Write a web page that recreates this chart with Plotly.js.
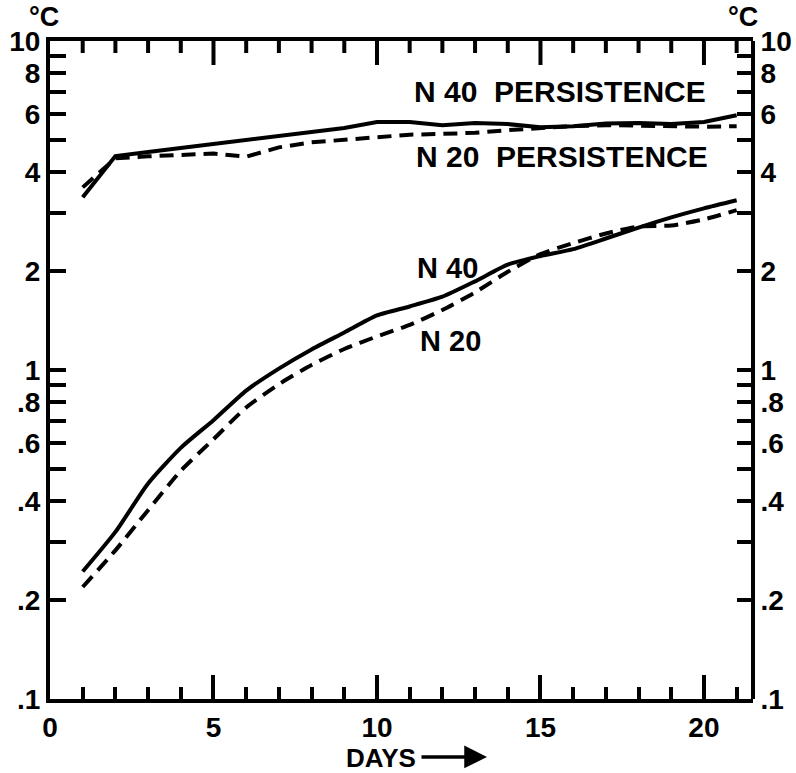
<!DOCTYPE html>
<html>
<head>
<meta charset="utf-8">
<script src="https://cdn.plot.ly/plotly-3.0.1.min.js"></script>
<style>html,body{margin:0;padding:0;background:#fff;}#chart{width:796px;height:773px;}</style>
</head>
<body>
<div id="chart"></div>
<script>
const days = [1,2,3,4,5,6,7,8,9,10,11,12,13,14,15,16,17,18,19,20,21];
const n40Persistence = [3.35,4.47,4.60,4.73,4.86,4.98,5.12,5.28,5.44,5.67,5.67,5.55,5.63,5.59,5.47,5.51,5.61,5.63,5.59,5.67,5.95];
const n20Persistence = [3.59,4.40,4.46,4.50,4.55,4.45,4.75,4.92,5.02,5.12,5.19,5.22,5.26,5.36,5.44,5.51,5.55,5.53,5.51,5.49,5.51];
const n40 = [0.244,0.322,0.452,0.580,0.704,0.866,1.01,1.155,1.30,1.465,1.56,1.67,1.86,2.09,2.22,2.33,2.51,2.71,2.91,3.10,3.28];
const n20 = [0.219,0.283,0.375,0.494,0.616,0.769,0.905,1.036,1.158,1.265,1.371,1.522,1.721,1.988,2.25,2.43,2.60,2.73,2.75,2.87,3.06];

const xTickVals = [0,5,10,15,20];
const xTickText = ['0','5','10','15','20'];
const yTickVals = [0.1,0.2,0.3,0.4,0.5,0.6,0.7,0.8,0.9,1,2,3,4,5,6,7,8,9,10];
const yTickText = ['.1','.2','','.4','','.6','','.8','','1','2','','4','','6','','8','','10'];

const FONT = 'Liberation Sans, Arial, sans-serif';
const solid = {color:'black', width:4};
const dashed = {color:'black', width:4, dash:'14px,8px'};

// mirrored day ticks along the top edge, drawn as axis decorations from the tick arrays
const PLOT_H = 773 - 41 - 74;
const topMinorX = days.filter(d => d % 5 !== 0);
const topMajorX = xTickVals.filter(v => v > 0);
const topTickShapes = [];
topMinorX.forEach(d => topTickShapes.push({type:'line', layer:'above', xref:'x', yref:'paper', x0:d, x1:d, y0:1, y1:1 - 12 / PLOT_H, line:{color:'black', width:4}}));
topMajorX.forEach(d => topTickShapes.push({type:'line', layer:'above', xref:'x', yref:'paper', x0:d, x1:d, y0:1, y1:1 - 24 / PLOT_H, line:{color:'black', width:4}}));

const traces = [
  {x: days, y: n40Persistence, mode:'lines', line: Object.assign({shape:'linear'}, solid), xaxis:'x', yaxis:'y'},
  {x: days, y: n20Persistence, mode:'lines', line: Object.assign({shape:'linear'}, dashed), xaxis:'x', yaxis:'y2'},
  {x: days, y: n40, mode:'lines', line: Object.assign({shape:'spline', smoothing:0.6}, solid), xaxis:'x', yaxis:'y'},
  {x: days, y: n20, mode:'lines', line: Object.assign({shape:'spline', smoothing:0.6}, dashed), xaxis:'x', yaxis:'y2'}
];

const tickFont = {family: FONT, size: 28, color:'black', weight:'bold'};
const yCommon = {
  type:'log', range:[-1,1], tickmode:'array', tickvals:yTickVals, ticktext:yTickText,
  ticks:'inside', tickwidth:4, tickcolor:'black', showline:true, linewidth:4, linecolor:'black',
  showgrid:false, zeroline:false, tickfont:tickFont, fixedrange:true
};

const layout = {
  width:796, height:773,
  margin:{l:50, r:43, t:41, b:74, pad:0},
  paper_bgcolor:'white', plot_bgcolor:'white',
  showlegend:false,
  font:{family:FONT, color:'black'},
  xaxis: {
    range:[0,21.5], tickmode:'array', tickvals:xTickVals, ticktext:xTickText,
    ticks:'inside', ticklen:24, tickwidth:4, tickcolor:'black',
    minor:{dtick:1, tick0:0, ticks:'inside', ticklen:12, tickwidth:4, tickcolor:'black'},
    showline:true, linewidth:4, linecolor:'black', mirror:true,
    showgrid:false, zeroline:false, tickfont:tickFont, anchor:'y'
  },
  yaxis: Object.assign({}, yCommon, {side:'left', ticklen:16, anchor:'x'}),
  yaxis2: Object.assign({}, yCommon, {side:'right', overlaying:'y', anchor:'free', position:1, ticklen:14}),
  shapes: topTickShapes,
  annotations:[
    {xref:'paper', yref:'paper', x:-0.0085, y:1.036, text:'°C', showarrow:false, xanchor:'center', yanchor:'middle', font:{family:FONT, size:27, weight:'bold'}},
    {xref:'paper', yref:'paper', x:0.9858, y:1.036, text:'°C', showarrow:false, xanchor:'center', yanchor:'middle', font:{family:FONT, size:27, weight:'bold'}},
    {xref:'paper', yref:'paper', x:0.7255, y:0.9225, text:'N 40  PERSISTENCE', showarrow:false, xanchor:'center', yanchor:'middle', font:{family:FONT, size:30, weight:'bold'}},
    {xref:'paper', yref:'paper', x:0.7283, y:0.8252, text:'N 20  PERSISTENCE', showarrow:false, xanchor:'center', yanchor:'middle', font:{family:FONT, size:30, weight:'bold'}},
    {xref:'paper', yref:'paper', x:0.5661, y:0.655, text:'N 40', showarrow:false, xanchor:'center', yanchor:'middle', font:{family:FONT, size:29, weight:'bold'}},
    {xref:'paper', yref:'paper', x:0.569, y:0.544, text:'N 20', showarrow:false, xanchor:'center', yanchor:'middle', font:{family:FONT, size:29, weight:'bold'}},
    {xref:'paper', yref:'paper', x:0.4708, y:-0.0897, text:'DAYS', showarrow:false, xanchor:'center', yanchor:'middle', font:{family:FONT, size:26, weight:'bold'}},
    {xref:'paper', yref:'paper', x:0.6216, y:-0.0881, text:'', showarrow:true, axref:'pixel', ayref:'pixel', ax:-67, ay:0, arrowhead:2, arrowsize:1.3, arrowwidth:3.5, arrowcolor:'black'}
  ]
};

Plotly.newPlot('chart', traces, layout, {staticPlot:true, displayModeBar:false});
</script>
</body>
</html>
